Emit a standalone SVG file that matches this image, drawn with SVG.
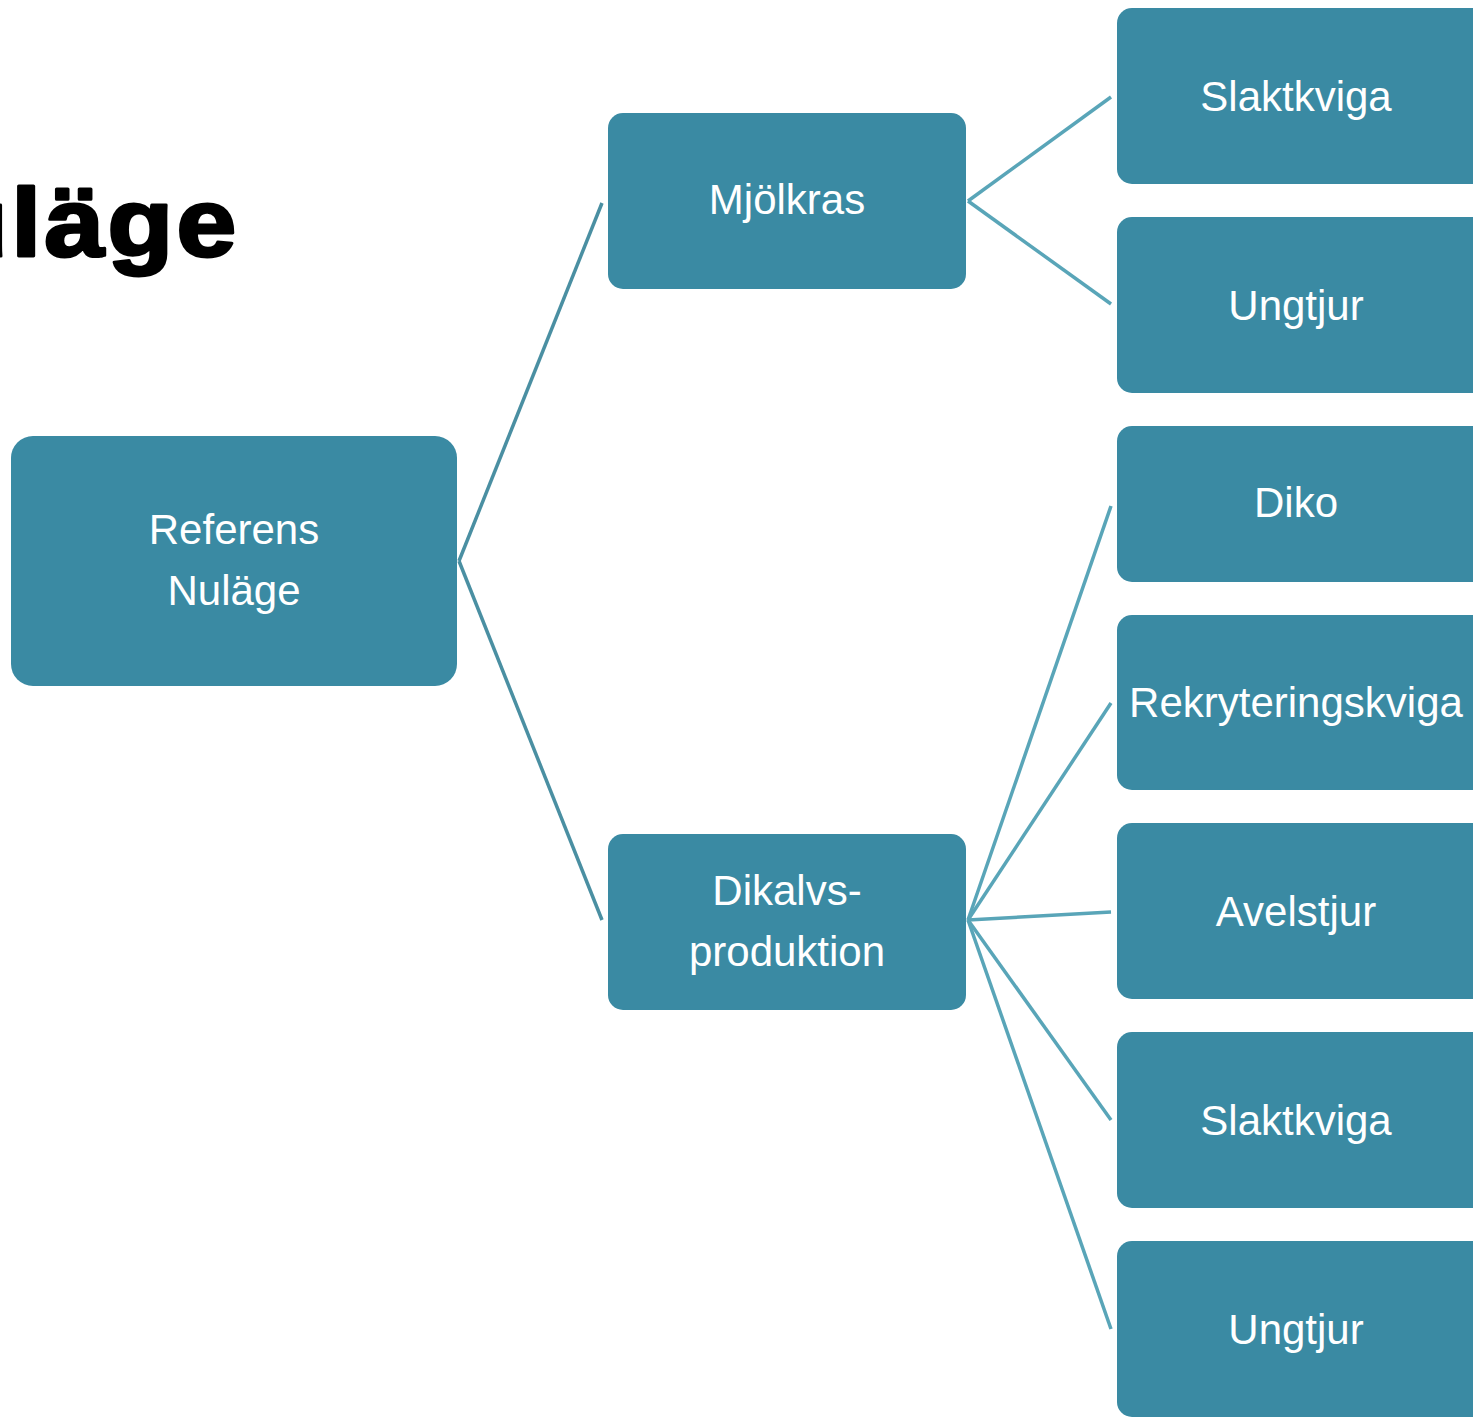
<svg xmlns="http://www.w3.org/2000/svg" width="1473" height="1421" viewBox="0 0 1473 1421">
<style>
.box{fill:#3a8aa3}
.lbl{fill:#ffffff;font-family:"Liberation Sans",Arial,sans-serif;font-size:42px;text-anchor:middle}
.c1{stroke:#4a8fa2;stroke-width:3.5;fill:none}
.c2{stroke:#59a5b8;stroke-width:3.5;fill:none}
.title{fill:#000;stroke:#000;stroke-width:3;stroke-linejoin:round;font-family:"Liberation Sans",Arial,sans-serif;font-weight:bold;font-size:96px;letter-spacing:3px}
</style>
<rect width="1473" height="1421" fill="#ffffff"/>
<text class="title" transform="scale(1.12,1)" x="-124" y="256">Nuläge</text>
<g id="connectors">
<line class="c1" x1="459" y1="561" x2="602" y2="203"/>
<line class="c1" x1="459" y1="561" x2="602" y2="920"/>
<line class="c2" x1="968" y1="201" x2="1111" y2="97"/>
<line class="c2" x1="968" y1="201" x2="1111" y2="304"/>
<line class="c2" x1="968" y1="920" x2="1111" y2="506"/>
<line class="c2" x1="968" y1="920" x2="1111" y2="703"/>
<line class="c2" x1="968" y1="920" x2="1111" y2="912"/>
<line class="c2" x1="968" y1="920" x2="1111" y2="1120"/>
<line class="c2" x1="968" y1="920" x2="1111" y2="1329"/>
</g>
<g id="root"><rect class="box" x="11" y="436" width="446" height="250" rx="22"/><text class="lbl" x="234" y="544">Referens</text><text class="lbl" x="234" y="605">Nuläge</text></g>
<g id="mjolkras"><rect class="box" x="608" y="113" width="358" height="176" rx="15"/><text class="lbl" x="787" y="214">Mjölkras</text></g>
<g id="dikalvs"><rect class="box" x="608" y="834" width="358" height="176" rx="15"/><text class="lbl" x="787" y="905">Dikalvs-</text><text class="lbl" x="787" y="966">produktion</text></g>
<g id="slaktkviga1"><rect class="box" x="1117" y="8" width="370" height="176" rx="15"/><text class="lbl" x="1296" y="111">Slaktkviga</text></g>
<g id="ungtjur1"><rect class="box" x="1117" y="217" width="370" height="176" rx="15"/><text class="lbl" x="1296" y="320">Ungtjur</text></g>
<g id="diko"><rect class="box" x="1117" y="426" width="370" height="156" rx="15"/><text class="lbl" x="1296" y="517">Diko</text></g>
<g id="rekryteringskviga"><rect class="box" x="1117" y="615" width="370" height="175" rx="15"/><text class="lbl" x="1296" y="717">Rekryteringskviga</text></g>
<g id="avelstjur"><rect class="box" x="1117" y="823" width="370" height="176" rx="15"/><text class="lbl" x="1296" y="926">Avelstjur</text></g>
<g id="slaktkviga2"><rect class="box" x="1117" y="1032" width="370" height="176" rx="15"/><text class="lbl" x="1296" y="1135">Slaktkviga</text></g>
<g id="ungtjur2"><rect class="box" x="1117" y="1241" width="370" height="176" rx="15"/><text class="lbl" x="1296" y="1344">Ungtjur</text></g>
</svg>
